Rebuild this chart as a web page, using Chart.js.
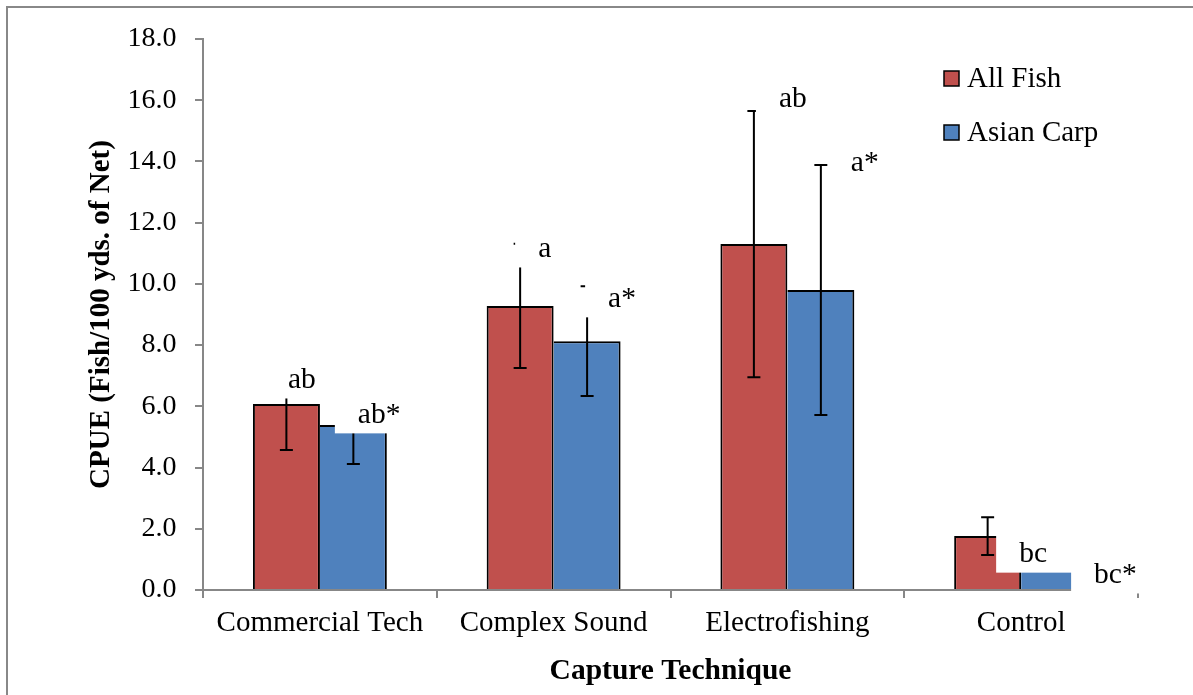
<!DOCTYPE html>
<html>
<head>
<meta charset="utf-8">
<script src="https://cdn.jsdelivr.net/npm/chart.js@4.4.0/dist/chart.umd.min.js"></script>
<style>
  html, body { margin: 0; padding: 0; background: #fff; overflow: hidden; }
  #wrap { position: relative; width: 1193px; height: 695px; }
  #frame { position: absolute; left: 6px; top: 6px; width: 1400px; height: 900px;
           border: 2px solid #888; pointer-events: none; }
</style>
</head>
<body>
<div id="wrap">
  <canvas id="cpueChart" width="1193" height="695"></canvas>
  <div id="frame"></div>
</div>
<script>
// CPUE por técnica de captura
const categories = ['Commercial Tech', 'Complex Sound', 'Electrofishing', 'Control'];
const allFish = [6.08, 9.28, 11.30, 1.76];
const allFishErr = [1.51, 2.03, 4.35, 0.62];
const asianCarp = [5.39, 8.13, 9.80, 0.65];
const asianCarpErr = [1.27, 1.79, 4.08, 0];
const allFishLetters = ['ab', 'a', 'ab', 'bc'];
const asianCarpLetters = ['ab*', 'a*', 'a*', 'bc*'];
const yTicks = [0, 2, 4, 6, 8, 10, 12, 14, 16, 18];

// dónde va cada letra: línea base en unidades del eje y desplazamiento desde el centro de la barra (px)
const letraBase = [[6.60, 10.88, 15.78, 0.91], [5.46, 9.25, 13.69, 0.23]];
const letraDesp = [[1.5, 18, 25, 31.5], [4.5, 21, 30, 39.5]];

const gris = '#878787';
const fuente = '"Liberation Serif", "Times New Roman", serif';

const marcas = {
  id: 'marcas',
  afterDatasetsDraw(chart) {
    const { ctx, scales: { y }, chartArea } = chart;
    const errores = [allFishErr, asianCarpErr];
    const letras = [allFishLetters, asianCarpLetters];

    // barras de error
    ctx.save();
    ctx.strokeStyle = '#000';
    ctx.lineWidth = 2;
    chart.data.datasets.forEach((ds, d) => {
      chart.getDatasetMeta(d).data.forEach((bar, i) => {
        const e = errores[d][i];
        if (!e) return;
        const v = ds.data[i];
        const y1 = y.getPixelForValue(v + e);
        const y2 = y.getPixelForValue(v - e);
        ctx.beginPath();
        ctx.moveTo(bar.x, y1); ctx.lineTo(bar.x, y2);
        ctx.moveTo(bar.x - 6.5, y1); ctx.lineTo(bar.x + 6.5, y1);
        ctx.moveTo(bar.x - 6.5, y2); ctx.lineTo(bar.x + 6.5, y2);
        ctx.stroke();
      });
    });

    // letras con fondo blanco
    ctx.font = '29.5px ' + fuente;
    ctx.textBaseline = 'alphabetic';
    ctx.textAlign = 'left';
    chart.data.datasets.forEach((ds, d) => {
      chart.getDatasetMeta(d).data.forEach((bar, i) => {
        const txt = letras[d][i];
        const x = bar.x + letraDesp[d][i];
        const base = y.getPixelForValue(letraBase[d][i]);
        const w = ctx.measureText(txt).width;
        ctx.fillStyle = '#fff';
        ctx.fillRect(x - 23, base - 40, w + 50, 50.5);
        ctx.fillStyle = '#000';
        ctx.fillText(txt, x, base);
      });
    });

    // leyenda
    ctx.font = '29px ' + fuente;
    chart.data.datasets.forEach((ds, d) => {
      const lx = chartArea.right - 194;
      const ly = 71 + d * 54;
      ctx.fillStyle = ds.backgroundColor;
      ctx.fillRect(lx, ly, 15, 15);
      ctx.strokeStyle = '#000';
      ctx.lineWidth = 1.5;
      ctx.strokeRect(lx, ly, 15, 15);
      ctx.fillStyle = '#000';
      ctx.fillText(ds.label, lx + 23, ly + 16);
    });
    ctx.restore();
  }
};

const ctx = document.getElementById('cpueChart').getContext('2d');
new Chart(ctx, {
  type: 'bar',
  data: {
    labels: categories,
    datasets: [
      {
        label: 'All Fish', data: allFish, backgroundColor: '#C0504D', borderColor: '#000',
        borderWidth: { top: 2, left: 2, right: 2, bottom: 0 }, borderSkipped: 'start',
        categoryPercentage: 0.573, barPercentage: 1
      },
      {
        label: 'Asian Carp', data: asianCarp, backgroundColor: '#4F81BD', borderColor: '#000',
        borderWidth: { top: 2, left: 0, right: 2, bottom: 0 }, borderSkipped: 'start',
        categoryPercentage: 0.573, barPercentage: 1
      }
    ]
  },
  options: {
    responsive: false,
    animation: false,
    layout: { padding: { left: 0, top: 39, right: 55, bottom: 0 } },
    plugins: { legend: { display: false }, tooltip: { enabled: false } },
    scales: {
      x: {
        grid: { drawOnChartArea: false, tickLength: 8, color: gris, lineWidth: 2 },
        border: { color: gris, width: 2 },
        ticks: { color: '#000', font: { family: fuente, size: 29 }, padding: 7.6, maxRotation: 0 },
        title: {
          display: true, text: 'Capture Technique', color: '#000',
          font: { family: fuente, size: 29.5, weight: 'bold' }, padding: { top: 0, bottom: 5.6 }
        },
        afterFit: s => { s.height = 105; }
      },
      y: {
        min: 0, max: 18,
        afterBuildTicks: s => { s.ticks = yTicks.map(v => ({ value: v })); },
        ticks: {
          callback: v => v.toFixed(1), color: '#000',
          font: { family: fuente, size: 28 }, padding: 18.5
        },
        grid: { drawOnChartArea: false, tickLength: 8, color: gris, lineWidth: 2 },
        border: { color: gris, width: 2 },
        title: {
          display: true, text: 'CPUE (Fish/100 yds. of Net)', color: '#000',
          font: { family: fuente, size: 29, weight: 'bold' }, padding: { top: 84.6, bottom: 0 }
        },
        afterFit: s => { s.width = 203; }
      }
    }
  },
  plugins: [marcas]
});
</script>
</body>
</html>
